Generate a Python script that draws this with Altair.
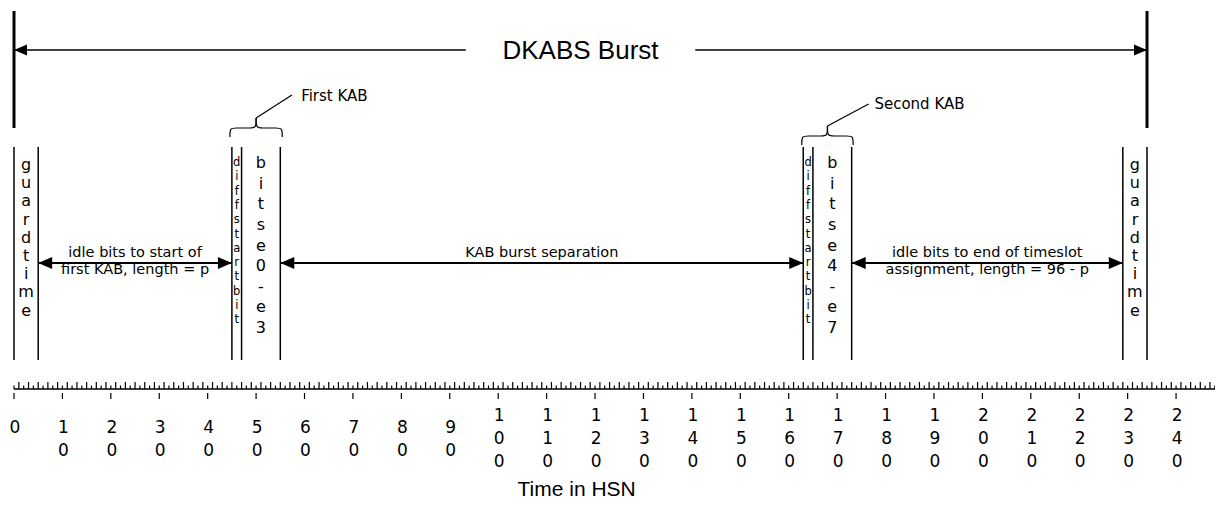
import altair as alt
import pandas as pd

# ---------------- data (x in HSN) ----------------
burst_start, burst_end = 0, 234
burst_label = "DKABS Burst"

col_start = [0, 45, 47, 163, 165, 229]
col_end = [5, 47, 55, 165, 173, 234]
col_kind = ["guard", "diff", "bits", "diff", "bits", "guard"]
col_text = ["guard  time", "diff  startbit", "bits e0-e3",
            "diff  startbit", "bits e4-e7", "guard  time"]

span_start = [5, 55, 173]
span_end = [45, 163, 229]
span_text = ["idle bits to start of\nfirst KAB, length =  p",
             "KAB burst separation",
             "idle bits to end of timeslot\nassignment, length = 96 - p"]

kab_start = [44.6, 162.7]
kab_end = [55.4, 173.3]
kab_label = ["First KAB", "Second KAB"]

major_ticks = list(range(0, 241, 10))
minor_ticks = list(range(0, 250))
axis_title = "Time in HSN"

# ---------------- layout (diagram rows, styles) ----------------
W, H = 1207, 491
X_DOMAIN = [-1.239, 248.04]
Y_DOMAIN = [8, 499]
FONT = "DejaVu Sans"
FONT2 = "Liberation Sans"
BLACK = "#000000"

Y_BAR = (11, 128)
Y_BURST = 50
BURST_GAP = 23.7
Y_COL = (147, 360)
Y_COL_TEXT = 256
Y_SPAN = 263
SPAN_BASE = 257
SPAN_FS = 14.5
SPAN_LH = 17
KAB_PEAK = [118, 126]
KAB_FLAT = [128, 136]
KAB_END = [137, 145]
KAB_LEAD_DX = [7.4, 8.5]
KAB_LEAD_Y = [95, 104]
KAB_TEXT_DX = [9.3, 9.7]
KAB_TEXT_Y = [96, 104]
Y_RULER = 389
Y_MINOR_TALL = 382
Y_MINOR_SHORT = 385.5
Y_MAJOR = (393, 399)
Y_TICKLABEL = 439.3
TICK_LH = 23
Y_TITLE = 496

HEAD_R = "M0,0L-2,-0.85L-2,0.85Z"
HEAD_L = "M0,0L2,-0.85L2,0.85Z"

XS = alt.Scale(domain=X_DOMAIN, nice=False, zero=False)
YS = alt.Scale(domain=Y_DOMAIN, reverse=True, nice=False, zero=False)


def ex(f="x"):
    return alt.X(f"{f}:Q", scale=XS, axis=None)


def ey(f="y"):
    return alt.Y(f"{f}:Q", scale=YS, axis=None)


def first_line(center, n, lh):
    # Vega places the first line of a multi-line text at y
    return center - (n - 1) * lh / 2


layers = []

# top burst bars
bars = pd.DataFrame({"x": [burst_start, burst_end], "y": Y_BAR[0], "y2": Y_BAR[1]})
layers.append(alt.Chart(bars).mark_rule(color=BLACK, strokeWidth=3).encode(
    x=ex(), y=ey(), y2=alt.Y2("y2:Q")))

# top burst arrow with a gap for the label
mid = (burst_start + burst_end) / 2
seg = pd.DataFrame({"x": [burst_start, mid + BURST_GAP], "x2": [mid - BURST_GAP, burst_end], "y": Y_BURST})
layers.append(alt.Chart(seg).mark_rule(color=BLACK, strokeWidth=1.5).encode(
    x=ex(), x2=alt.X2("x2:Q"), y=ey()))
layers.append(alt.Chart(pd.DataFrame({"x": [burst_start], "y": [Y_BURST]})).mark_point(
    shape=HEAD_L, filled=True, size=169, opacity=1, color=BLACK).encode(x=ex(), y=ey()))
layers.append(alt.Chart(pd.DataFrame({"x": [burst_end], "y": [Y_BURST]})).mark_point(
    shape=HEAD_R, filled=True, size=169, opacity=1, color=BLACK).encode(x=ex(), y=ey()))
layers.append(alt.Chart(pd.DataFrame({"x": [mid], "y": [Y_BURST + 1], "t": [burst_label]})).mark_text(
    font=FONT2, fontSize=26, color=BLACK, align="center", baseline="middle").encode(
    x=ex(), y=ey(), text="t:N"))

# column boundary lines
bounds = sorted(set(col_start + col_end))
cl = pd.DataFrame({"x": bounds, "y": Y_COL[0], "y2": Y_COL[1]})
layers.append(alt.Chart(cl).mark_rule(color=BLACK, strokeWidth=1.5).encode(
    x=ex(), y=ey(), y2=alt.Y2("y2:Q")))

# column vertical texts
col_style = {"guard": (16, 18.2), "diff": (11.5, 14.3), "bits": (16, 20.6)}
cols = pd.DataFrame({
    "x": [(a + b) / 2 for a, b in zip(col_start, col_end)],
    "y": [first_line(Y_COL_TEXT, len(s), col_style[k][1]) for s, k in zip(col_text, col_kind)],
    "kind": col_kind,
    "t": ["\n".join(list(s)) for s in col_text],
})
for kind, (fs, lh) in col_style.items():
    layers.append(alt.Chart(cols).transform_filter(alt.datum.kind == kind).mark_text(
        font=FONT, fontSize=fs, lineHeight=lh, lineBreak="\n", color=BLACK,
        align="center", baseline="middle").encode(x=ex(), y=ey(), text="t:N"))

# spans (double arrows)
sp = pd.DataFrame({"x": span_start, "x2": span_end, "y": Y_SPAN})
layers.append(alt.Chart(sp).mark_rule(color=BLACK, strokeWidth=1.8).encode(
    x=ex(), x2=alt.X2("x2:Q"), y=ey()))
layers.append(alt.Chart(pd.DataFrame({"x": span_start, "y": Y_SPAN})).mark_point(
    shape=HEAD_L, filled=True, size=196, opacity=1, color=BLACK).encode(x=ex(), y=ey()))
layers.append(alt.Chart(pd.DataFrame({"x": span_end, "y": Y_SPAN})).mark_point(
    shape=HEAD_R, filled=True, size=196, opacity=1, color=BLACK).encode(x=ex(), y=ey()))
spl = pd.DataFrame({
    "x": [(a + b) / 2 for a, b in zip(span_start, span_end)],
    "y": SPAN_BASE,
    "t": span_text,
})
layers.append(alt.Chart(spl).mark_text(
    font=FONT, fontSize=SPAN_FS, lineHeight=SPAN_LH, lineBreak="\n", color=BLACK,
    align="center", baseline="alphabetic").encode(x=ex(), y=ey(), text="t:N"))

# braces
rows = []
r = 1.0
for k, (a, b) in enumerate(zip(kab_start, kab_end)):
    m = (a + b) / 2
    for side, e in (("L", a), ("R", b)):
        s = 1 if side == "L" else -1
        pts = [(e, KAB_END[k]), (e, KAB_FLAT[k]), (e + s * r, KAB_FLAT[k]),
               (m - s * r, KAB_FLAT[k]), (m, KAB_FLAT[k]), (m, KAB_PEAK[k])]
        for i, (px, py) in enumerate(pts):
            rows.append({"g": f"{k}{side}", "i": i, "x": px, "y": py})
br = pd.DataFrame(rows)
layers.append(alt.Chart(br).mark_line(color=BLACK, strokeWidth=1.2, interpolate="basis").encode(
    x=ex(), y=ey(), detail="g:N", order="i:Q"))

kmid = [(a + b) / 2 for a, b in zip(kab_start, kab_end)]
ld = pd.DataFrame({"x": kmid, "y": KAB_PEAK,
                   "x2": [m + d for m, d in zip(kmid, KAB_LEAD_DX)], "y2": KAB_LEAD_Y})
layers.append(alt.Chart(ld).mark_rule(color=BLACK, strokeWidth=1.2).encode(
    x=ex(), y=ey(), x2=alt.X2("x2:Q"), y2=alt.Y2("y2:Q")))
kl = pd.DataFrame({"x": [m + d for m, d in zip(kmid, KAB_TEXT_DX)], "y": KAB_TEXT_Y, "t": kab_label})
layers.append(alt.Chart(kl).mark_text(
    font=FONT, fontSize=15, color=BLACK, align="left", baseline="middle").encode(
    x=ex(), y=ey(), text="t:N"))

# ruler
layers.append(alt.Chart(pd.DataFrame({"x": [minor_ticks[0]], "x2": [minor_ticks[-1] + 0.5], "y": [Y_RULER]})).mark_rule(
    color=BLACK, strokeWidth=1.5).encode(x=ex(), x2=alt.X2("x2:Q"), y=ey()))
mt = pd.DataFrame({"x": minor_ticks,
                   "y": [Y_MINOR_TALL if t % 2 else Y_MINOR_SHORT for t in minor_ticks],
                   "y2": Y_RULER})
layers.append(alt.Chart(mt).mark_rule(color=BLACK, strokeWidth=1.2).encode(
    x=ex(), y=ey(), y2=alt.Y2("y2:Q")))
mj = pd.DataFrame({"x": major_ticks, "y": Y_MAJOR[0], "y2": Y_MAJOR[1]})
layers.append(alt.Chart(mj).mark_rule(color=BLACK, strokeWidth=1.2).encode(
    x=ex(), y=ey(), y2=alt.Y2("y2:Q")))
tick_lines = [list(str(v)) + ([""] if len(str(v)) == 1 else []) for v in major_ticks]
tl = pd.DataFrame({
    "x": major_ticks,
    "y": [first_line(Y_TICKLABEL, len(c), TICK_LH) for c in tick_lines],
    "t": ["\n".join(c) for c in tick_lines],
})
layers.append(alt.Chart(tl).mark_text(
    font=FONT, fontSize=17, lineHeight=TICK_LH, lineBreak="\n", color=BLACK,
    align="center", baseline="middle", dx=1).encode(x=ex(), y=ey(), text="t:N"))

layers.append(alt.Chart(pd.DataFrame({"x": [116.2], "y": [Y_TITLE], "t": [axis_title]})).mark_text(
    font=FONT2, fontSize=21, color=BLACK, align="center", baseline="alphabetic").encode(
    x=ex(), y=ey(), text="t:N"))

chart = alt.layer(*layers).properties(
    width=W, height=H, padding=0,
    autosize=alt.AutoSizeParams(type="none"),
    background="white",
).configure_view(stroke=None)

chart.save("out.html", embed_options={"renderer": "svg", "actions": False})
